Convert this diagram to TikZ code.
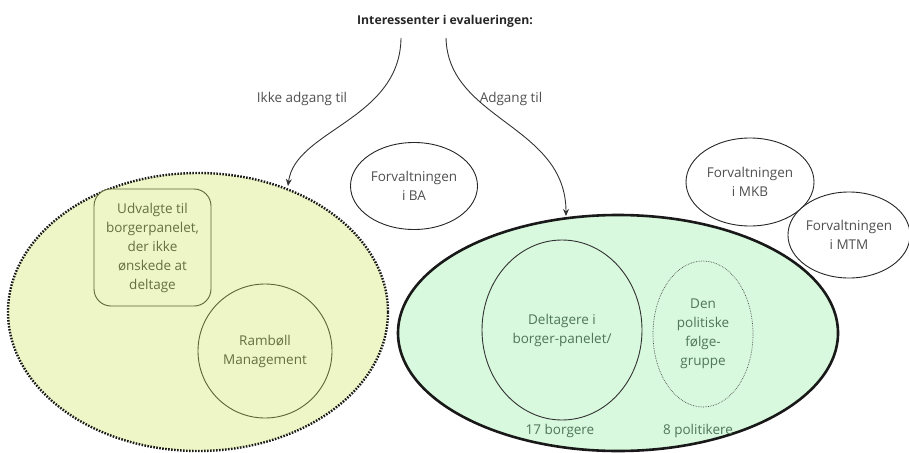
\documentclass[tikz,border=0pt]{standalone}
\usepackage{fontspec}
\setmainfont{Open Sans}
\usetikzlibrary{shapes.geometric,arrows.meta}
\definecolor{leftfill}{HTML}{EEF5C6}
\definecolor{rightfill}{HTML}{D8F9DE}
\definecolor{oltext}{HTML}{65713F}
\definecolor{grtext}{HTML}{4F7659}
\definecolor{gytext}{HTML}{505050}
\definecolor{olline}{HTML}{5A6636}
\tikzset{
  every node/.style={font=\fontsize{13.5}{19}\selectfont, align=center},
  ell/.style={ellipse, inner sep=0pt},
  forv/.style={ell, draw=black!85, line width=0.9pt, text=gytext, fill=white},
  conn/.style={draw=black!80, line width=0.9pt, -{Stealth[length=7pt,width=6pt]}},
  lbl/.style={text=gytext},
}
\begin{document}
\begin{tikzpicture}[x=1pt,y=-1pt]
\useasboundingbox (0,0) rectangle (909,452);
% left ellipse
\node[ell, fill=leftfill, draw=black!90, line width=2.4pt, dash pattern=on 1.6pt off 1.4pt,
  minimum width=380pt, minimum height=278pt] (L) at (198,312) {};
\node[draw=olline, line width=0.9pt, rounded corners=17pt, minimum width=117pt, minimum height=117pt,
  text=oltext, fill=leftfill] (U) at (152.5,247.5) {Udvalgte til\\borgerpanelet,\\der ikke\\ønskede at\\deltage};
\node[circle, draw=olline, line width=0.9pt, minimum size=134pt, inner sep=0pt, text=oltext] (R) at (265,351) {Rambøll\\Management};
% right ellipse
\node[ell, fill=rightfill, draw=black!90, line width=2.6pt, minimum width=440pt, minimum height=236pt] (G) at (618,333) {};
\node[ell, draw=black!80, line width=0.9pt, minimum width=160pt, minimum height=180pt, text=grtext] (D) at (562,330) {Deltagere i\\borger-panelet/};
\node[ell, draw=black!70, line width=0.7pt, densely dotted, minimum width=100pt, minimum height=146pt, text=grtext] (P) at (703,334) {Den\\politiske\\følge-\\gruppe};
\node[text=grtext] (n17) at (560,431) {17 borgere};
\node[text=grtext] (n8) at (698,431) {8 politikere};
% Forvaltningen
\node[forv, minimum width=127pt, minimum height=87pt] (BA) at (414,186) {Forvaltningen\\i BA};
\node[forv, minimum width=128pt, minimum height=88pt] (MKB) at (750,182) {Forvaltningen\\i MKB};
\node[forv, minimum width=118pt, minimum height=86pt] (MTM) at (849,235) {Forvaltningen\\i MTM};
% title
\node[font=\bfseries\fontsize{12.2}{14}\selectfont, text=black!85] (T) at (445,21) {Interessenter i evalueringen:};
\coordinate (a0) at (401,38);
\coordinate (b0) at (446,38);
\coordinate (a1) at (288,186);
\coordinate (b1) at (566,216);
\draw[conn] (a0) .. controls (400,120) and (295,130) .. (a1);
\draw[conn] (b0) .. controls (448,120) and (566,125) .. (b1);
\node[lbl] (la) at (302,99) {Ikke adgang til};
\node[lbl] (lb) at (511,99) {Adgang til};
\end{tikzpicture}
\end{document}
